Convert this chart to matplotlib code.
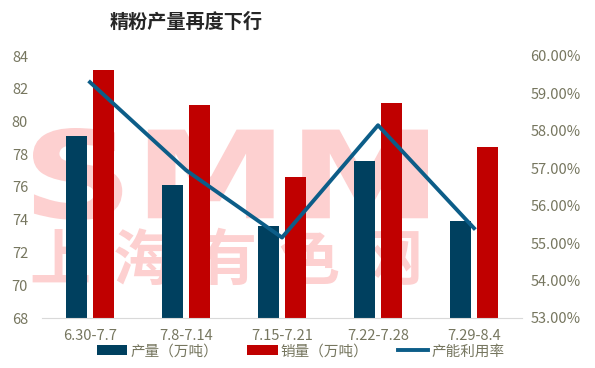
import numpy as np
import matplotlib.pyplot as plt
from matplotlib.ticker import FuncFormatter
from matplotlib.textpath import TextPath
from matplotlib.patches import PathPatch
from matplotlib.font_manager import FontProperties
from matplotlib.transforms import Affine2D

plt.rcParams['font.family'] = ['Noto Sans CJK SC', 'DejaVu Sans']

weeks = ['6.30-7.7', '7.8-7.14', '7.15-7.21', '7.22-7.28', '7.29-8.4']
production = [79.1, 76.1, 73.6, 77.6, 73.9]
sales = [83.15, 81.0, 76.6, 81.1, 78.45]
utilization = [59.3, 56.95, 55.15, 58.15, 55.4]

text_color = '#76765f'
navy = '#00405f'
red = '#c00000'
line_blue = '#0c5d88'
wm_color = '#fdd0d0'

W, H = 595, 368
fig = plt.figure(figsize=(W / 100, H / 100), dpi=100)
ax = fig.add_axes([42 / W, 1 - 318 / H, 480 / W, 262 / H])
ax2 = ax.twinx()

# watermark: "SMM" stretched into its box, then the Chinese name below
path = TextPath((0, 0), 'SMM', size=100, prop=FontProperties(family='DejaVu Sans', weight='bold'))
ext = path.get_extents()
x0, x1, y0, y1 = 33 / W, 428 / W, 1 - 220 / H, 1 - 128 / H
tr = (Affine2D().translate(-ext.x0, -ext.y0)
      .scale((x1 - x0) / ext.width, (y1 - y0) / ext.height)
      .translate(x0, y0))
ax.add_patch(PathPatch(tr.transform_path(path), facecolor=wm_color, edgecolor='none',
                       transform=fig.transFigure, zorder=1, clip_on=False))
for i, ch in enumerate('上海有色网'):
    ax.text((60 + i * 83) / W, 1 - 262 / H, ch, transform=fig.transFigure, fontsize=44,
            fontweight='bold', color=wm_color, ha='center', va='center', zorder=1)

x = np.arange(len(weeks))
w = 0.22
ax.bar(x - 0.14, production, width=w, color=navy, label='产量（万吨）', zorder=2)
ax.bar(x + 0.14, sales, width=w, color=red, label='销量（万吨）', zorder=2)
ax2.plot(x, utilization, color=line_blue, linewidth=2.8, label='产能利用率', zorder=3)

ax.set_xlim(-0.5, len(weeks) - 0.5)
ax.set_ylim(68, 84)
ax.set_yticks(np.arange(68, 85, 2))
ax2.set_ylim(53, 60)
ax2.set_yticks(np.arange(53, 61, 1))
ax2.yaxis.set_major_formatter(FuncFormatter(lambda v, p: f'{v:.2f}%'))

ax.set_xticks(x)
ax.set_xticklabels(weeks)
for a in (ax, ax2):
    for s in a.spines.values():
        s.set_visible(False)
    a.tick_params(length=0, labelsize=10.5, labelcolor=text_color)
    a.patch.set_visible(False)
ax.spines['bottom'].set_visible(True)
ax.spines['bottom'].set_color('#d9d9d9')
ax.tick_params(axis='x', pad=8)
ax.tick_params(axis='y', pad=10)
ax2.tick_params(axis='y', pad=6)

fig.text(0.313, 0.94, '精粉产量再度下行', fontsize=13.8, fontweight='bold',
         color='#262626', ha='center', va='center')

h1, l1 = ax.get_legend_handles_labels()
h2, l2 = ax2.get_legend_handles_labels()
fig.legend(h1 + h2, l1 + l2, loc='center', bbox_to_anchor=(0.505, 0.045), ncol=3,
           frameon=False, fontsize=10.5, labelcolor=text_color, handlelength=2.1,
           handleheight=0.7, handletextpad=0.2, columnspacing=2.0)

fig.savefig('out.png', dpi=100)
